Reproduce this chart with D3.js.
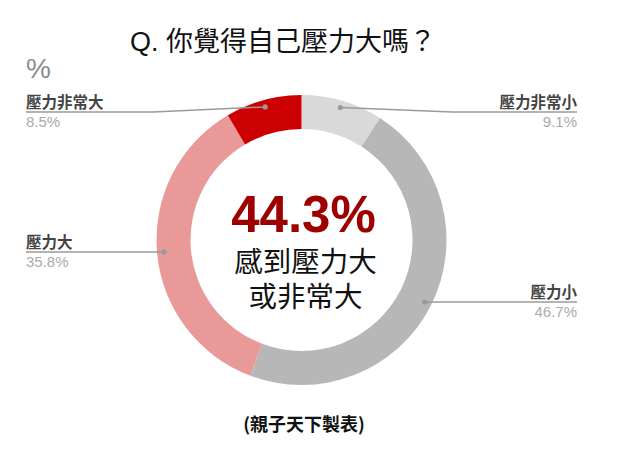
<!DOCTYPE html>
<html><head><meta charset="utf-8">
<script src="https://cdn.jsdelivr.net/npm/d3@7"></script>
<style>
html,body{margin:0;padding:0;background:#fff;}
svg{display:block;}
</style></head>
<body>
<svg id="chart" width="620" height="454"></svg>
<script>
const categories = ["壓力非常小", "壓力小", "壓力大", "壓力非常大"];
const values = [9.1, 46.7, 35.8, 8.5];
const valueLabels = ["9.1%", "46.7%", "35.8%", "8.5%"];
const colors = ["#d9d9d9", "#b7b7b7", "#ea9999", "#cc0000"];
const sides = ["right", "right", "left", "left"];
const titleText = "Q. 你覺得自己壓力大嗎？";
const centerValue = "44.3%";
const centerLines = ["感到壓力大", "或非常大"];
const footerText = "(親子天下製表)";
const unitText = "%";

const svg = d3.select("#chart");
const cx = 301.5, cy = 240, rOuter = 145, rInner = 111, rDot = 138;
const cjk = "'Noto Sans CJK TC','Noto Sans CJK SC',sans-serif";
const latin = "'Liberation Sans',Arial,'Noto Sans CJK TC',sans-serif";

const pie = d3.pie().sort(null).value(d => d)(values);
const arc = d3.arc().innerRadius(rInner).outerRadius(rOuter);
const g = svg.append("g").attr("transform", `translate(${cx},${cy})`);
g.selectAll("path").data(pie).join("path")
  .attr("d", arc).attr("fill", (d, i) => colors[i]);

// title
svg.append("text").attr("x", 283).attr("y", 51).attr("text-anchor", "middle")
  .attr("font-family", latin).attr("font-size", 27).attr("fill", "#111").text(titleText);
svg.append("text").attr("x", 26).attr("y", 78)
  .attr("font-family", latin).attr("font-size", 28).attr("fill", "#8c8c8c").text(unitText);

// center
svg.append("text").attr("x", cx + 2).attr("y", 231.5).attr("text-anchor", "middle")
  .attr("font-family", latin).attr("font-weight", "bold").attr("font-size", 51)
  .attr("fill", "#9e0000").text(centerValue);
centerLines.forEach((t, i) => {
  svg.append("text").attr("x", cx + 4).attr("y", 272 + i * 35).attr("text-anchor", "middle")
    .attr("font-family", latin).attr("font-size", 28.5).attr("fill", "#111").text(t);
});

// labels
const leftX = 26, rightX = 577, minLabelY = 112, elbow = 112;
pie.forEach((d, i) => {
  const a = (d.startAngle + d.endAngle) / 2;
  const dx = cx + rDot * Math.sin(a), dy = cy - rDot * Math.cos(a);
  const ly = Math.max(dy, minLabelY);
  const right = sides[i] === "right";
  const tx = right ? rightX : leftX;
  const ex = right ? Math.min(dx + elbow, tx) : Math.max(dx - elbow, tx);
  svg.append("path")
    .attr("d", d3.line()([[dx, dy], [ex, ly], [tx, ly]]))
    .attr("fill", "none").attr("stroke", "#9a9a9a").attr("stroke-width", 1.5);
  svg.append("circle").attr("cx", dx).attr("cy", dy).attr("r", 2.6).attr("fill", "#999");
  svg.append("text").attr("x", tx).attr("y", ly - 4)
    .attr("text-anchor", right ? "end" : "start")
    .attr("font-family", cjk).attr("font-weight", "bold").attr("font-size", 15.5)
    .attr("fill", "#444").text(categories[i]);
  svg.append("text").attr("x", tx).attr("y", ly + 15)
    .attr("text-anchor", right ? "end" : "start")
    .attr("font-family", latin).attr("font-size", 15)
    .attr("fill", "#aaa").text(valueLabels[i]);
});

// footer
svg.append("text").attr("x", 304).attr("y", 431).attr("text-anchor", "middle")
  .attr("font-family", cjk).attr("font-weight", "bold").attr("font-size", 18)
  .attr("fill", "#111").text(footerText);
</script>
</body></html>
